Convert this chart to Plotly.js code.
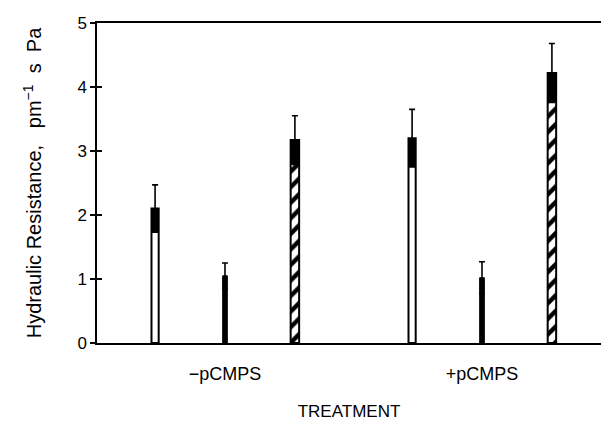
<!DOCTYPE html>
<html>
<head>
<meta charset="utf-8">
<script src="https://cdn.plot.ly/plotly-3.0.1.min.js"></script>
<style>html,body{margin:0;padding:0;background:#fff;}#chart{width:601px;height:421px;}</style>
</head>
<body>
<div id="chart"></div>
<script>
// Data
const categories = ['\u2212pCMPS', '+pCMPS'];
const openValues = [2.1, 3.2];
const openErrors = [0.37, 0.45];
const solidValues = [1.05, 1.02];
const solidErrors = [0.2, 0.25];
const hatchedValues = [3.17, 4.22];
const hatchedErrors = [0.38, 0.46];
const yTicks = [0, 1, 2, 3, 4, 5];

const catIdx = categories.map((c, i) => i);
const offsets = [-0.272, 0, 0.272];
const widths = [0.028, 0.018, 0.033];

function xs(k) { return catIdx.map(i => i + offsets[k]); }

function mainBar(k, vals, errs, marker) {
  return {
    type: 'bar', x: xs(k), y: vals, width: widths[k],
    marker: marker,
    error_y: {type: 'data', array: errs, visible: true, color: '#000', thickness: 1.6, width: 3},
    hoverinfo: 'skip', showlegend: false
  };
}
function darkSeg(k, vals, errs) {
  return {
    type: 'bar', x: xs(k), y: errs, base: vals.map((v, i) => v - errs[i]),
    width: widths[k], marker: {color: '#000', line: {width: 0}},
    hoverinfo: 'skip', showlegend: false
  };
}

const traces = [
  mainBar(0, openValues, openErrors, {color: '#fff', line: {color: '#000', width: 2}}),
  mainBar(1, solidValues, solidErrors, {color: '#000', line: {color: '#000', width: 1}}),
  mainBar(2, hatchedValues, hatchedErrors, {color: '#fff', line: {color: '#000', width: 2},
    pattern: {shape: '/', fgcolor: '#000', bgcolor: '#fff', size: 11, solidity: 0.4}}),
  darkSeg(0, openValues, openErrors),
  darkSeg(1, solidValues, solidErrors),
  darkSeg(2, hatchedValues, hatchedErrors),
  {type: 'scatter', x: [0], y: [0], yaxis: 'y2', mode: 'markers', marker: {opacity: 0}, hoverinfo: 'skip', showlegend: false}
];

const font = {family: 'Liberation Sans, Arial, Helvetica, sans-serif', color: '#000'};

const layout = {
  width: 601, height: 421,
  margin: {l: 97, r: 0, t: 23, b: 78},
  paper_bgcolor: '#fff', plot_bgcolor: '#fff',
  barmode: 'overlay',
  showlegend: false,
  font: font,
  xaxis: {
    range: [-0.498, 1.463],
    tickvals: catIdx, ticktext: categories,
    ticks: '', showgrid: false, zeroline: false,
    showline: true, linecolor: '#000', linewidth: 1.6, mirror: true,
    tickfont: Object.assign({size: 18}, font),
    ticklabelstandoff: 14,
    title: {text: 'TREATMENT', font: Object.assign({size: 17}, font), standoff: 24}
  },
  yaxis: {
    range: [0, 5], tickvals: yTicks,
    ticks: 'outside', ticklen: 5, tickwidth: 1.5, tickcolor: '#000',
    showgrid: false, zeroline: false,
    showline: true, linecolor: '#000', linewidth: 1.6,
    tickfont: Object.assign({size: 17}, font),
    title: {text: 'Hydraulic Resistance,   pm<sup>\u22121</sup>  s  Pa', font: Object.assign({size: 20}, font), standoff: 30}
  },
  yaxis2: {
    overlaying: 'y', side: 'left', anchor: 'x', range: [0, 5], tickvals: yTicks,
    ticks: 'inside', ticklen: 5, tickwidth: 1.5, tickcolor: '#000',
    showticklabels: false, showgrid: false, zeroline: false, showline: false
  }
};

Plotly.newPlot('chart', traces, layout, {displayModeBar: false, staticPlot: true});
</script>
</body>
</html>
